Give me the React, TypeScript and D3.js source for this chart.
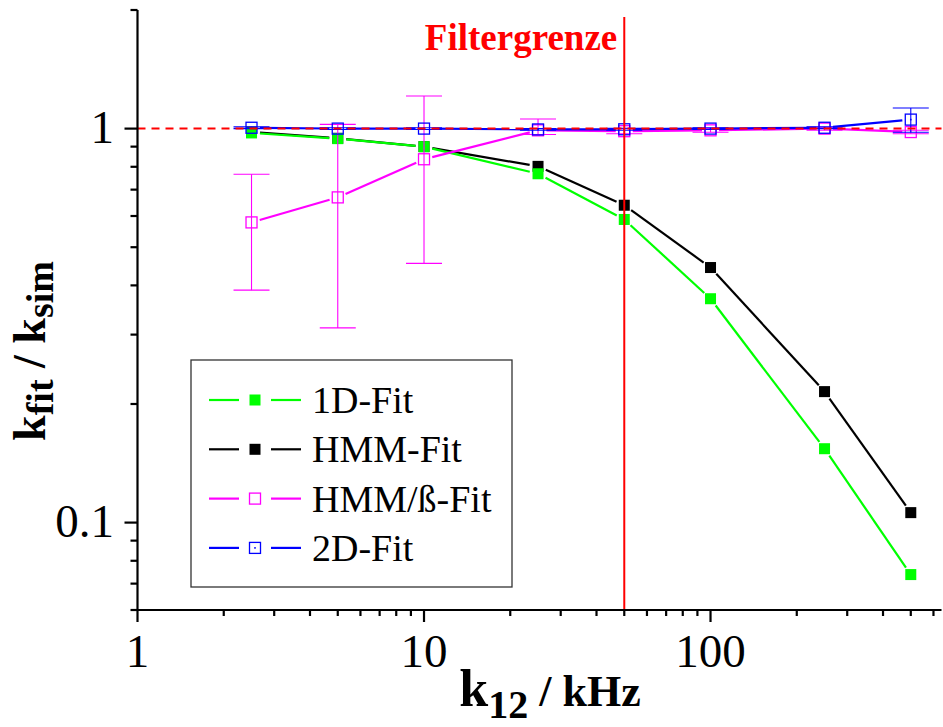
import React from 'react';
import * as d3 from 'd3';

// ---- data ----
const kValues = [2.5, 5, 10, 25, 50, 100, 250, 500];
const fit1D = [0.975, 0.943, 0.9, 0.768, 0.588, 0.37, 0.154, 0.0738];
const fitHMM = [0.98, 0.945, 0.9, 0.802, 0.639, 0.444, 0.215, 0.106];
const fitHMMBeta = [0.578, 0.669, 0.836, 0.99, 0.985, 0.99, 1.0, 0.98];
const fitHMMBetaLow = [0.389, 0.312, 0.455, 0.966, 0.97, 0.979, 0.99, 0.97];
const fitHMMBetaHigh = [0.766, 1.025, 1.21, 1.058, 1.0, 1.0, 1.008, 0.99];
const fit2D = [1.005, 1.0, 1.0, 0.995, 0.996, 1.0, 1.005, 1.054];
const fit2DLow = [1.0, 0.995, 0.995, 0.99, 0.99, 0.995, 1.0, 0.979];
const fit2DHigh = [1.01, 1.005, 1.005, 1.0, 1.002, 1.005, 1.01, 1.128];
const filterLimit = 50;
const referenceRatio = 1;
const xTickLabels = ['1', '10', '100'];
const yTickLabels = ['0.1', '1'];
const legendLabels = ['1D-Fit', 'HMM-Fit', 'HMM/ß-Fit', '2D-Fit'];
const filterLabel = 'Filtergrenze';

const W = 943;
const H = 727;
const FONT = "'Liberation Serif', 'Times New Roman', serif";

const x = d3.scaleLog().domain([1, 640]).range([137.5, 941.5]);
const y = d3.scaleLog().domain([0.06, 2]).range([610, 10]);

type Seg = [number, number, number, number];
function gapSegments(pts: [number, number][], gap: number): Seg[] {
  const segs: Seg[] = [];
  for (let i = 0; i < pts.length - 1; i++) {
    const [x1, y1] = pts[i];
    const [x2, y2] = pts[i + 1];
    const dx = x2 - x1;
    const dy = y2 - y1;
    const L = Math.hypot(dx, dy);
    if (L <= 2 * gap) continue;
    const ux = dx / L;
    const uy = dy / L;
    segs.push([x1 + ux * gap, y1 + uy * gap, x2 - ux * gap, y2 - uy * gap]);
  }
  return segs;
}

type Series = {
  name: string;
  values: number[];
  low?: number[];
  high?: number[];
  color: string;
  filled: boolean;
  dot?: boolean;
};

const drawOrder: Series[] = [
  { name: legendLabels[1], values: fitHMM, color: '#000000', filled: true },
  { name: legendLabels[0], values: fit1D, color: '#00ff00', filled: true },
  { name: legendLabels[2], values: fitHMMBeta, low: fitHMMBetaLow, high: fitHMMBetaHigh, color: '#ff00ff', filled: false },
  { name: legendLabels[3], values: fit2D, low: fit2DLow, high: fit2DHigh, color: '#0000ff', filled: false, dot: true },
];

const legendOrder: Series[] = [drawOrder[1], drawOrder[0], drawOrder[2], drawOrder[3]];

const MS = 11; // marker size

function Marker({ cx, cy, s }: { cx: number; cy: number; s: Series }) {
  return (
    <g>
      <rect
        x={cx - MS / 2}
        y={cy - MS / 2}
        width={MS}
        height={MS}
        fill={s.filled ? s.color : 'none'}
        stroke={s.color}
        strokeWidth={s.filled ? 0 : 1.3}
      />
      {s.dot && <rect x={cx - 0.8} y={cy - 0.8} width={1.6} height={1.6} fill={s.color} />}
    </g>
  );
}

export default function App() {
  const xTicks = x.ticks();
  const yTicks = y.ticks();
  const isMajor = (v: number) => Math.abs(Math.log10(v) - Math.round(Math.log10(v))) < 1e-9;
  const x0 = x.range()[0];
  const x1 = x.range()[1];
  const y0 = y.range()[0];
  const y1 = y.range()[1];

  const xMajorVals = xTicks.filter(isMajor);
  const yMajorVals = yTicks.filter(isMajor);

  const legendX = 191;
  const legendY = 360;
  const legendW = 321;
  const legendH = 227;
  const rowY = (i: number) => 400 + i * 49.3;

  return (
    <svg
      width={W}
      height={H}
      style={{ position: 'absolute', left: 0, top: 0, background: '#fff' }}
      fontFamily={FONT}
    >
      <rect x={0} y={0} width={W} height={H} fill="#fff" />

      {/* series lines, error bars, markers */}
      {drawOrder.map((s) => {
        const pts = kValues.map((k, i) => [x(k), y(s.values[i])] as [number, number]);
        const segs = gapSegments(pts, 8.5);
        return (
          <g key={s.name}>
            {s.low &&
              s.high &&
              kValues.map((k, i) => (
                <g key={'e' + i} stroke={s.color} strokeWidth={1.1}>
                  <line x1={x(k)} x2={x(k)} y1={y(s.low![i])} y2={y(s.high![i])} />
                  <line x1={x(k) - 18} x2={x(k) + 18} y1={y(s.low![i])} y2={y(s.low![i])} />
                  <line x1={x(k) - 18} x2={x(k) + 18} y1={y(s.high![i])} y2={y(s.high![i])} />
                </g>
              ))}
            {segs.map((g, i) => (
              <line key={'l' + i} x1={g[0]} y1={g[1]} x2={g[2]} y2={g[3]} stroke={s.color} strokeWidth={2.2} />
            ))}
            {pts.map((p, i) => (
              <Marker key={'m' + i} cx={p[0]} cy={p[1]} s={s} />
            ))}
          </g>
        );
      })}

      {/* reference line at 1 */}
      <line
        x1={x0}
        x2={x1}
        y1={y(referenceRatio)}
        y2={y(referenceRatio)}
        stroke="#ff0000"
        strokeWidth={2}
        strokeDasharray="8 6"
      />

      {/* filter limit */}
      <line x1={x(filterLimit)} x2={x(filterLimit)} y1={17} y2={y0} stroke="#ff0000" strokeWidth={2} />
      <text
        x={x(filterLimit) - 7}
        y={50}
        textAnchor="end"
        fill="#ff0000"
        fontWeight="bold"
        fontSize={37}
      >
        {filterLabel}
      </text>

      {/* axes */}
      <g stroke="#000" strokeWidth={2.2}>
        <line x1={x0 - 1} x2={x1} y1={y0} y2={y0} />
        <line x1={x0} x2={x0} y1={y1} y2={y0 + 1} />
        {xTicks.map((t, i) => (
          <line key={'xt' + i} x1={x(t)} x2={x(t)} y1={y0} y2={y0 + (isMajor(t) ? 12 : 6)} />
        ))}
        {yTicks.map((t, i) => (
          <line key={'yt' + i} x1={x0 - (isMajor(t) ? 13 : 7)} x2={x0} y1={y(t)} y2={y(t)} />
        ))}
      </g>

      {/* tick labels */}
      {xMajorVals.map((t, i) => (
        <text key={'xl' + i} x={x(t)} y={667} textAnchor="middle" fontSize={47} fill="#000">
          {xTickLabels[i]}
        </text>
      ))}
      {yMajorVals.map((t, i) => (
        <text key={'yl' + i} x={114} y={y(t) + 14} textAnchor="end" fontSize={47} fill="#000">
          {yTickLabels[i]}
        </text>
      ))}

      {/* axis titles */}
      <text x={550} y={706} textAnchor="middle" fontWeight="bold" fill="#000">
        <tspan fontSize={52}>k</tspan>
        <tspan fontSize={40} dy={12}>12</tspan>
        <tspan fontSize={44} dy={-12}> / kHz</tspan>
      </text>
      <text
        transform="translate(45, 351) rotate(-90)"
        textAnchor="middle"
        fontWeight="bold"
        fill="#000"
        fontSize={46}
      >
        <tspan>k</tspan>
        <tspan fontSize={38} dy={8}>fit</tspan>
        <tspan dy={-8}> / k</tspan>
        <tspan fontSize={38} dy={8}>sim</tspan>
      </text>

      {/* legend */}
      <rect x={legendX} y={legendY} width={legendW} height={legendH} fill="#fff" stroke="#333" strokeWidth={1.3} />
      {legendOrder.map((s, i) => {
        const ry = rowY(i);
        return (
          <g key={'lg' + i}>
            <line x1={209} x2={239} y1={ry} y2={ry} stroke={s.color} strokeWidth={2.2} />
            <line x1={271} x2={301} y1={ry} y2={ry} stroke={s.color} strokeWidth={2.2} />
            <Marker cx={255} cy={ry} s={s} />
            <text x={312} y={ry + 13} fontSize={38} fill="#000">
              {s.name}
            </text>
          </g>
        );
      })}
    </svg>
  );
}
